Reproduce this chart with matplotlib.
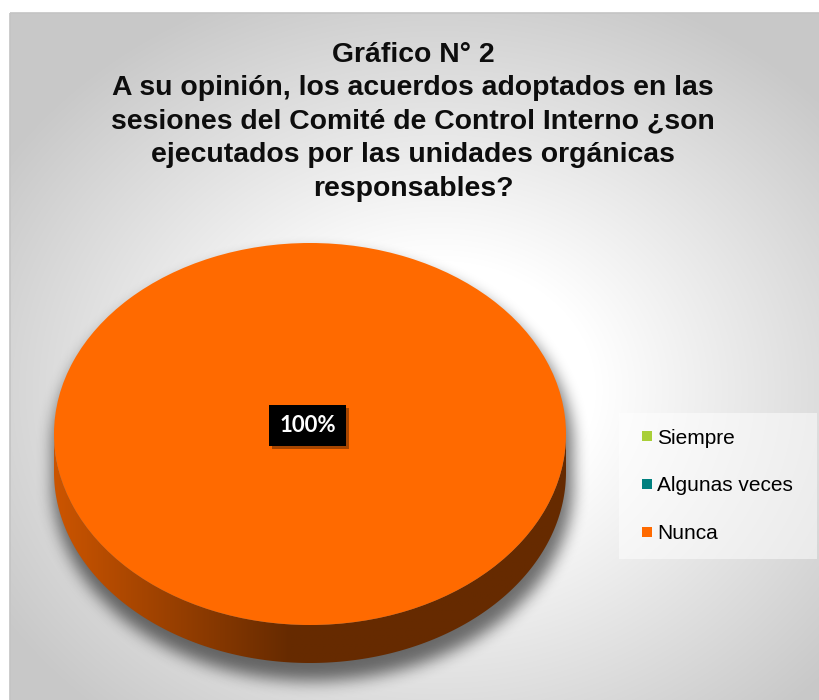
import numpy as np
import matplotlib
matplotlib.use("Agg")
import matplotlib.pyplot as plt
from matplotlib.patches import Polygon, Rectangle
from matplotlib.lines import Line2D
import matplotlib.patheffects as pe

plt.rcParams['font.family'] = ['Liberation Sans', 'DejaVu Sans']

# Survey answers (percent of respondents)
categories = ['Siempre', 'Algunas veces', 'Nunca']
values = [0, 0, 100]
colors = ['#A9CF38', '#00807F', '#FF6A00']

title = ('Gráfico N° 2\n'
         'A su opinión, los acuerdos adoptados en las\n'
         'sesiones del Comité de Control Interno ¿son\n'
         'ejecutados por las unidades orgánicas\n'
         'responsables?')

W, H = 819, 700
# pie geometry in pixels: centre and half-axes of the top face, rim depth
PIE_CX, PIE_CY, PIE_A, PIE_B, DEPTH = 310, 434, 256, 191, 38

fig = plt.figure(figsize=(W / 100, H / 100), dpi=100)

# full-figure axes in pixel units for background, frame and shadow
bg = fig.add_axes([0, 0, 1, 1])
bg.set_xlim(0, W)
bg.set_ylim(H, 0)
bg.axis('off')

X, Y = np.meshgrid(np.arange(W) + 0.5, np.arange(H) + 0.5)
t = np.sqrt(((X - 440) / 520) ** 2 + ((Y - 390) / 430) ** 2)
shade = 255 - np.clip((t - 0.3) / 0.7, 0, 1) * 55
shade[(X < 10) | (Y < 13)] = 255
bg.imshow(np.dstack([shade] * 3).astype(np.uint8), extent=(0, W, H, 0),
          interpolation='bilinear', zorder=0)
bg.add_patch(Rectangle((10, 13), W, H, fill=False, ec='#c4c4c4', lw=1.2, zorder=1))


def box_blur(a, r, axis):
    pads = [(r + 1, r) if k == axis else (0, 0) for k in range(2)]
    c = np.cumsum(np.pad(a, pads, mode='edge'), axis=axis)
    if axis == 0:
        return (c[2 * r + 1:] - c[:-2 * r - 1]) / (2 * r + 1)
    return (c[:, 2 * r + 1:] - c[:, :-2 * r - 1]) / (2 * r + 1)


# soft drop shadow under the pie silhouette
sx, sy, sa, sb = PIE_CX + 3, PIE_CY + 14, PIE_A + 4, PIE_B + 4
u = (X - sx) / sa
mask = ((u ** 2 + ((Y - sy) / sb) ** 2) <= 1) | \
       ((u ** 2 + ((Y - sy - DEPTH) / sb) ** 2) <= 1) | \
       ((np.abs(u) <= 1) & (Y >= sy) & (Y <= sy + DEPTH))
blur = mask.astype(float)
for _ in range(3):
    blur = box_blur(box_blur(blur, 7, 0), 7, 1)
shadow = np.zeros((H, W, 4))
shadow[..., 3] = blur * 0.55
bg.imshow(shadow, extent=(0, W, H, 0), interpolation='bilinear', zorder=2)

# pie axes: x in [-1, 1] spans the top face, y in [-1 - d, 1] includes the rim
d = DEPTH / PIE_B
ax = fig.add_axes([(PIE_CX - PIE_A) / W, 1 - (PIE_CY + PIE_B + DEPTH) / H,
                   2 * PIE_A / W, (2 * PIE_B + DEPTH) / H])


def pct_label(p):
    return f'{p:.0f}%' if p > 0 else ''


wedges, texts, autotexts = ax.pie(values, colors=colors, startangle=90,
                                  counterclock=False, autopct=pct_label,
                                  pctdistance=0, wedgeprops=dict(linewidth=0))
ax.set_aspect('auto')
ax.axis('off')

# rim of each slice on the front half, shaded darker to the right
xs = np.linspace(-1, 1, 400)
factor = np.clip(0.4 + 0.4 * (-0.08 - xs) / 0.92, 0.4, 0.8)
for w, col in zip(wedges, colors):
    ang = np.radians(np.linspace(w.theta1, w.theta2, 721))
    front = np.sin(ang) <= 0
    if not front.any():
        continue
    idx = np.flatnonzero(front)
    runs = np.split(idx, np.flatnonzero(np.diff(idx) > 1) + 1)
    rgb = np.array(matplotlib.colors.to_rgb(col))
    img = np.clip(factor[None, :, None] * rgb[None, None, :], 0, 1)
    img = np.repeat(img, 2, axis=0)
    for run in runs:
        a = ang[run]
        top = np.column_stack([np.cos(a), np.sin(a)])
        bot = np.column_stack([np.cos(a[::-1]), np.sin(a[::-1]) - d])
        poly = Polygon(np.vstack([top, bot]), closed=True, transform=ax.transData)
        im = ax.imshow(img, extent=(-1, 1, -1 - d, 0), origin='lower',
                       aspect='auto', interpolation='bilinear', zorder=0.5)
        im.set_clip_path(poly)
ax.set_xlim(-1, 1)
ax.set_ylim(-1 - d, 1)

for txt in autotexts:
    txt.set_position((-0.01, 0.045))
    txt.set(color='white', fontsize=16, fontweight='bold', family=['Lato', 'DejaVu Sans'],
            ha='center', va='center')
    txt.set_bbox(dict(boxstyle='square,pad=0.45', fc='black', ec='none'))
    txt.get_bbox_patch().set_path_effects(
        [pe.withSimplePatchShadow(offset=(2, -2), alpha=0.35)])

bg.text(413, 42, title, ha='center', va='top', fontsize=20.45, fontweight='bold',
        linespacing=1.37, color='#0d0d0d', zorder=5)

handles = [Line2D([], [], ls='none', marker='s', markersize=7.9, color=c,
                  markeredgewidth=0) for c in colors]
fig.legend(handles, categories, loc='upper left',
           bbox_to_anchor=(619 / W, 1 - 413 / H, 198 / W, 0.0), mode='expand',
           borderaxespad=0, fontsize=15, labelspacing=1.375, borderpad=0.75,
           handlelength=1.2, handletextpad=-0.13, fancybox=False,
           facecolor='white', framealpha=0.5, edgecolor='none')

fig.savefig('out.png', dpi=100)
